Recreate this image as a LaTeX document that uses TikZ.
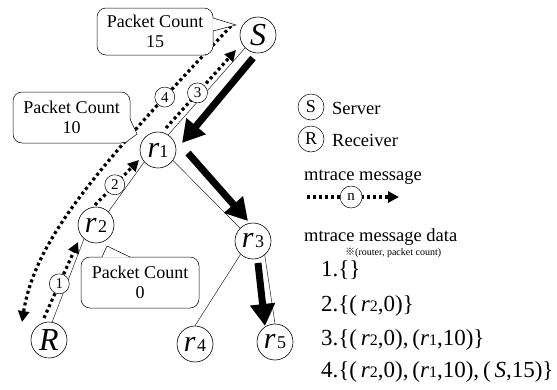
\documentclass[tikz,border=0pt]{standalone}
\usepackage{fontspec}
\setmainfont{Liberation Serif}
\newfontfamily\cjkfont{Noto Sans CJK JP}
\usetikzlibrary{arrows.meta}
\newcommand\rnode[2]{{\fontsize{30}{30}\selectfont\itshape r}#1{\fontsize{18}{18}\selectfont #2}}
\newcommand\rlist[2]{{\itshape r}#1{\fontsize{16}{16}\selectfont #2}}
\begin{document}
\begin{tikzpicture}[x=1pt,y=-1pt,
  tnode/.style={circle, draw, line width=0.6pt, minimum size=36pt, inner sep=0pt, fill=white},
  tedge/.style={line width=0.5pt, draw=black!85},
  flow/.style={line width=7pt, -{Triangle[length=22pt,width=24pt]}},
  msg/.style={line width=3.2pt, dash pattern=on 3pt off 3pt, -{Triangle[length=11pt,width=11pt]}},
  msgn/.style={circle, draw, solid, line width=0.5pt, fill=white, minimum size=20pt, inner sep=0pt, font=\fontsize{15}{15}\selectfont},
  callout/.style={draw, rounded corners=9pt, fill=white, line width=0.5pt, align=center, font=\fontsize{18}{20}\selectfont, inner sep=0pt},
  ptr/.style={line width=0.5pt},
  lgnode/.style={circle, draw, line width=0.5pt, minimum size=26pt, inner sep=0pt, font=\fontsize{18}{18}\selectfont},
  txt/.style={anchor=west, inner sep=0pt, font=\fontsize{18.5}{20}\selectfont},
  lst/.style={anchor=base west, inner sep=0pt, font=\fontsize{23}{24}\selectfont}
]
\useasboundingbox (0,0) rectangle (557,389);

% tree nodes
\node[tnode] (S) at (258,35) {\fontsize{32}{32}\selectfont\itshape S};
\node[tnode] (r1) at (158,150) {\rnode{}{1}};
\node[tnode] (r2) at (96,225) {\rnode{\,}{2}};
\node[tnode] (r3) at (253,241) {\rnode{\,}{3}};
\node[tnode] (R) at (49,340) {\fontsize{32}{32}\selectfont\itshape R};
\node[tnode] (r4) at (195,344) {\rnode{\,}{4}};
\node[tnode] (r5) at (275,342) {\rnode{\,}{5}};

% tree edges
\draw[tedge] (S.-135) -- (r1.56);
\draw[tedge] (r1.-139) -- (r2.47);
\draw[tedge] (r2.-131) -- (R.80);
\draw[tedge] (r1.-35) -- (r3.135);
\draw[tedge] (r3.-133) -- (r4.90);
\draw[tedge] (r3.-50) -- (r5.90);

% data flow arrows
\coordinate (f1a) at (253,58);  \coordinate (f1b) at (182,143);
\coordinate (f2a) at (188,153); \coordinate (f2b) at (248,221);
\coordinate (f3a) at (258,263); \coordinate (f3b) at (265,326);
\draw[flow] (f1a) -- (f1b);
\draw[flow] (f2a) -- (f2b);
\draw[flow] (f3a) -- (f3b);

% mtrace messages
\coordinate (m1a) at (44,318);  \coordinate (m1b) at (78,242);
\coordinate (m2a) at (95,205);  \coordinate (m2b) at (139,160);
\coordinate (m3a) at (166,128); \coordinate (m3b) at (236,50);
\coordinate (m4a) at (231,26);  \coordinate (m4b) at (22,322);
\draw[msg] (m1a) -- (m1b) node[msgn, pos=0.45] (n1) {1};
\draw[msg] (m2a) -- (m2b) node[msgn, pos=0.45] (n2) {2};
\draw[msg] (m3a) -- (m3b) node[msgn, pos=0.45] (n3) {3};
\draw[msg] (m4a) .. controls (95,170) and (35,240) .. (m4b) node[msgn, pos=0.18] (n4) {4};

% callouts
\node[callout, minimum width=116pt, minimum height=47pt] (pc15) at (155,31.5) {Packet Count\\15};
\fill[white] (212.5,18) -- (236,25) -- (212.5,31) -- cycle;
\draw[ptr] (213,18) -- (236,25) -- (213,31);

\node[callout, minimum width=117pt, minimum height=51pt] (pc10) at (71.5,117.5) {Packet Count\\10};
\fill[white] (129.7,119) -- (137,134) -- (125,142.7) -- (112,130) -- cycle;
\draw[ptr] (130,119) -- (137,134) -- (125,143);

\node[callout, minimum width=118pt, minimum height=51pt] (pc0) at (140,282.5) {Packet Count\\0};
\fill[white] (102,257.5) -- (107,246) -- (130,257.5) -- cycle;
\draw[ptr] (102,257) -- (107,246) -- (130,257);

% legend
\node[lgnode] (lgS) at (311,107) {S};
\node[txt] (lgSt) at (332,108) {Server};
\node[lgnode] (lgR) at (311,139) {R};
\node[txt] (lgRt) at (332,140) {Receiver};
\node[txt] (lgm) at (304,177) {mtrace message};
\coordinate (la) at (307,197); \coordinate (lb) at (399,197);
\draw[msg] (la) -- (lb) node[msgn, minimum size=22pt, pos=0.48] (ln) {n};
\node[txt] (lgd) at (304,237) {mtrace message data};
\node[anchor=west, inner sep=0pt, font=\fontsize{10}{10}\selectfont] (note) at (345,253) {{\cjkfont ※}(router, packet count)};
\node[lst] (l1) at (321,276) {1.\{\}};
\node[lst] (l2) at (321,311) {2.\{(\,\rlist{}{2},0)\}};
\node[lst] (l3) at (321,345) {3.\{(\,\rlist{}{2},0),\,(\rlist{}{1},10)\}};
\node[lst] (l4) at (321,377) {4.\{(\,\rlist{}{2},0),\,(\rlist{}{1},10),\,(\,{\itshape S},15)\}};
\end{tikzpicture}
\end{document}
